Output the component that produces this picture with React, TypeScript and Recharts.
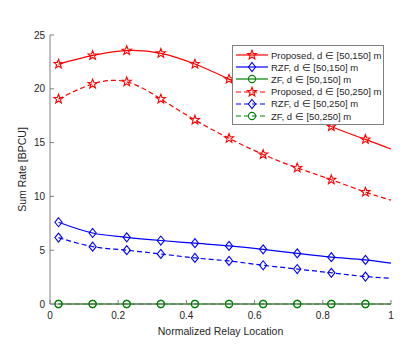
import { LineChart, Line, XAxis, YAxis } from 'recharts'

const xs = [0.025, 0.125, 0.225, 0.325, 0.425, 0.525, 0.625, 0.725, 0.825, 0.925, 1]
const proposed150 = [22.3, 23.1, 23.55, 23.3, 22.3, 20.9, 19.45, 18.0, 16.5, 15.3, 14.4]
const rzf150 = [7.6, 6.6, 6.2, 5.9, 5.65, 5.4, 5.08, 4.7, 4.35, 4.1, 3.8]
const zf150 = [0, 0, 0, 0, 0, 0, 0, 0, 0, 0, 0]
const proposed250 = [19.05, 20.45, 20.65, 19.05, 17.1, 15.4, 13.9, 12.65, 11.55, 10.4, 9.65]
const rzf250 = [6.17, 5.33, 5.0, 4.65, 4.28, 4.0, 3.6, 3.25, 2.9, 2.55, 2.4]
const zf250 = [0, 0, 0, 0, 0, 0, 0, 0, 0, 0, 0]

const xTicks = [0, 0.2, 0.4, 0.6, 0.8, 1]
const yTicks = [0, 5, 10, 15, 20, 25]

const RED = '#ff0000'
const BLUE = '#0000ff'
const GREEN = '#008000'
const AXIS = '#808080'
const TEXT = '#262626'
const FONT = '"Liberation Sans", Arial, sans-serif'

const data = xs.map((x, i) => ({
    x,
    p150: proposed150[i],
    r150: rzf150[i],
    z150: zf150[i],
    p250: proposed250[i],
    r250: rzf250[i],
    z250: zf250[i],
}))

type Marker = 'star' | 'diamond' | 'circle'

function MarkerShape({ kind, cx, cy, color }: { kind: Marker; cx: number; cy: number; color: string }) {
    if (kind === 'star') {
        const pts: string[] = []
        for (let k = 0; k < 10; k++) {
            const r = k % 2 === 0 ? 4.8 : 2
            const a = -Math.PI / 2 + (k * Math.PI) / 5
            pts.push(`${cx + r * Math.cos(a)},${cy + r * Math.sin(a)}`)
        }
        return <polygon points={pts.join(' ')} fill="none" stroke={color} strokeWidth={1.1} />
    }
    if (kind === 'diamond') {
        return (
            <polygon
                points={`${cx},${cy - 4.5} ${cx + 3.6},${cy} ${cx},${cy + 4.5} ${cx - 3.6},${cy}`}
                fill="none" stroke={color} strokeWidth={1.1}
            />
        )
    }
    return <circle cx={cx} cy={cy} r={3.6} fill="none" stroke={color} strokeWidth={1.1} />
}

const makeDot = (kind: Marker, color: string) => (props: any) => {
    const { cx, cy, index, payload } = props
    if (payload.x === 1 || cx == null) return <g key={`d${index}`} />
    return <MarkerShape key={`d${index}`} kind={kind} cx={cx} cy={cy} color={color} />
}

const BottomTick = (props: any) => {
    const { x, y, payload } = props
    return (
        <g>
            <line x1={x} x2={x} y1={y} y2={y - 4} stroke={AXIS} />
            <text x={x} y={y + 15} textAnchor="middle" fontSize={10} fill={TEXT} fontFamily={FONT}>{payload.value}</text>
        </g>
    )
}
const TopTick = (props: any) => {
    const { x, y } = props
    return <line x1={x} x2={x} y1={y} y2={y + 4} stroke={AXIS} />
}
const LeftTick = (props: any) => {
    const { x, y, payload } = props
    return (
        <g>
            <line x1={x} x2={x + 4} y1={y} y2={y} stroke={AXIS} />
            <text x={x - 5} y={y + 3.5} textAnchor="end" fontSize={10} fill={TEXT} fontFamily={FONT}>{payload.value}</text>
        </g>
    )
}
const RightTick = (props: any) => {
    const { x, y } = props
    return <line x1={x} x2={x - 4} y1={y} y2={y} stroke={AXIS} />
}

const legendItems = [
    { label: 'Proposed, d ∈ [50,150] m', color: RED, kind: 'star' as Marker, dash: false },
    { label: 'RZF, d ∈ [50,150] m', color: BLUE, kind: 'diamond' as Marker, dash: false },
    { label: 'ZF, d ∈ [50,150] m', color: GREEN, kind: 'circle' as Marker, dash: false },
    { label: 'Proposed, d ∈ [50,250] m', color: RED, kind: 'star' as Marker, dash: true },
    { label: 'RZF, d ∈ [50,250] m', color: BLUE, kind: 'diamond' as Marker, dash: true },
    { label: 'ZF, d ∈ [50,250] m', color: GREEN, kind: 'circle' as Marker, dash: true },
]

const LegendBox = () => (
    <div style={{
        position: 'absolute', left: 232, top: 45, width: 146, background: '#fff', border: `1px solid ${AXIS}`,
        padding: '3px 2px 2px 2px', fontFamily: FONT, fontSize: 9.5, color: TEXT,
    }}>
        {legendItems.map((it) => (
            <div key={it.label} style={{ display: 'flex', alignItems: 'center', height: 12.2 }}>
                <svg width={34} height={12} style={{ marginRight: 2, flex: 'none' }}>
                    <line x1={1} x2={33} y1={6} y2={6} stroke={it.color} strokeWidth={1.2} strokeDasharray={it.dash ? '5 3' : undefined} />
                    <MarkerShape kind={it.kind} cx={17} cy={6} color={it.color} />
                </svg>
                <span style={{ whiteSpace: 'nowrap' }}>{it.label}</span>
            </div>
        ))}
    </div>
)

export default function App() {
    return (
        <div style={{ position: 'absolute', left: 0, top: 0, width: 415, height: 347, background: '#fff' }}>
            <LineChart width={415} height={347} data={data} margin={{ top: 35, right: 24, left: 20, bottom: 23 }}>
                <XAxis
                    dataKey="x" type="number" domain={[0, 1]} ticks={xTicks}
                    tick={<BottomTick />} tickSize={0} tickMargin={0} height={20}
                    axisLine={{ stroke: AXIS }} tickLine={false} allowDataOverflow
                    label={{ value: 'Normalized Relay Location', position: 'insideBottom', offset: -11, fontSize: 10.5, fill: TEXT, fontFamily: FONT }}
                />
                <XAxis
                    xAxisId="top" orientation="top" dataKey="x" type="number" domain={[0, 1]} ticks={xTicks}
                    tick={<TopTick />} tickSize={0} tickMargin={0} height={0}
                    axisLine={{ stroke: AXIS }} tickLine={false}
                />
                <YAxis
                    type="number" domain={[0, 25]} ticks={yTicks}
                    tick={<LeftTick />} tickSize={0} tickMargin={0} width={30}
                    axisLine={{ stroke: AXIS }} tickLine={false}
                    label={{ value: 'Sum Rate [BPCU]', angle: -90, position: 'insideLeft', offset: 2, fontSize: 10.5, fill: TEXT, fontFamily: FONT, style: { textAnchor: 'middle' } }}
                />
                <YAxis
                    yAxisId="right" orientation="right" type="number" domain={[0, 25]} ticks={yTicks}
                    tick={<RightTick />} tickSize={0} tickMargin={0} width={0}
                    axisLine={{ stroke: AXIS }} tickLine={false}
                />
                <Line type="natural" dataKey="p150" stroke={RED} strokeWidth={1.2} dot={makeDot('star', RED)} isAnimationActive={false} />
                <Line type="monotone" dataKey="r150" stroke={BLUE} strokeWidth={1.2} dot={makeDot('diamond', BLUE)} isAnimationActive={false} />
                <Line type="linear" dataKey="z150" stroke={GREEN} strokeWidth={1.2} dot={makeDot('circle', GREEN)} isAnimationActive={false} />
                <Line type="natural" dataKey="p250" stroke={RED} strokeWidth={1.2} strokeDasharray="5 3" dot={makeDot('star', RED)} isAnimationActive={false} />
                <Line type="monotone" dataKey="r250" stroke={BLUE} strokeWidth={1.2} strokeDasharray="5 3" dot={makeDot('diamond', BLUE)} isAnimationActive={false} />
                <Line type="linear" dataKey="z250" stroke={GREEN} strokeWidth={1.2} strokeDasharray="5 3" dot={makeDot('circle', GREEN)} isAnimationActive={false} />
            </LineChart>
            <LegendBox />
        </div>
    )
}
